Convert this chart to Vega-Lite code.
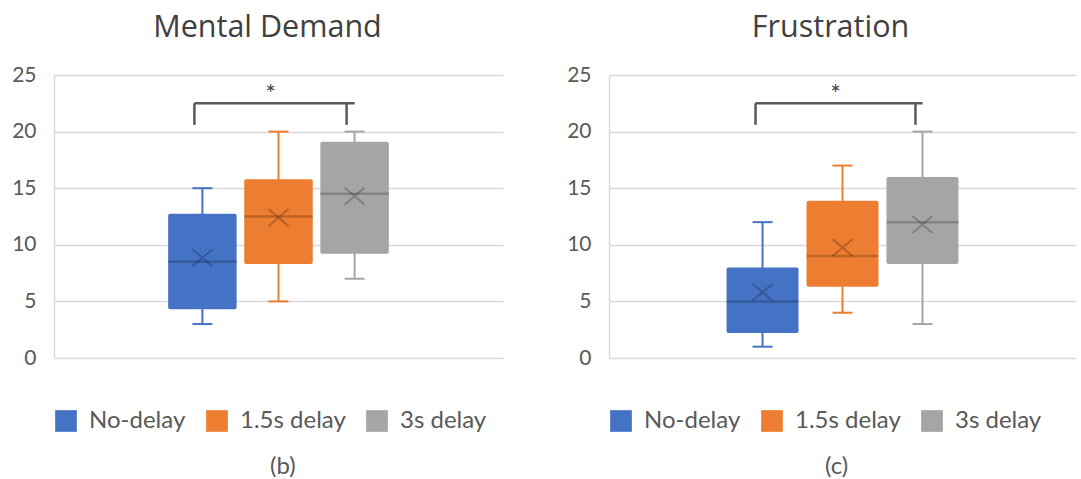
{
  "$schema": "https://vega.github.io/schema/vega-lite/v6.json",
  "padding": {"left": 11, "top": 12, "right": 0, "bottom": 0},
  "background": "white",
  "datasets": {
    "md": [
      {"group": "No-delay", "lower": 3, "q1": 4.3, "median": 8.5, "q3": 12.75, "upper": 15, "mean": 8.85},
      {"group": "1.5s delay", "lower": 5, "q1": 8.3, "median": 12.5, "q3": 15.8, "upper": 20, "mean": 12.4},
      {"group": "3s delay", "lower": 7, "q1": 9.2, "median": 14.5, "q3": 19.1, "upper": 20, "mean": 14.3}
    ],
    "fr": [
      {"group": "No-delay", "lower": 1, "q1": 2.2, "median": 5, "q3": 8, "upper": 12, "mean": 5.8},
      {"group": "1.5s delay", "lower": 4, "q1": 6.3, "median": 9, "q3": 13.9, "upper": 17, "mean": 9.75},
      {"group": "3s delay", "lower": 3, "q1": 8.3, "median": 12, "q3": 16, "upper": 20, "mean": 11.8}
    ],
    "brk": [
      {"a": "No-delay", "b": "3s delay", "mid": "1.5s delay", "top": 22.5, "leg": 20.6, "label": "*"}
    ]
  },
  "spacing": 63,
  "resolve": {"legend": {"color": "independent"}},
  "hconcat": [
    {
      "width": 449,
      "height": 283,
      "title": {"text": "Mental Demand", "dx": -11},
      "layer": [
        {
          "data": {"name": "md"},
          "mark": {"type": "bar", "cornerRadius": 2},
          "encoding": {
            "x": {"field": "group", "type": "nominal", "axis": null, "scale": {"domain": [" ", "No-delay", "1.5s delay", "3s delay", "  "], "paddingInner": 0.1, "paddingOuter": 0.5}},
            "y": {"field": "q1", "type": "quantitative", "title": null, "scale": {"domain": [0, 25], "nice": false}, "axis": {"values": [0, 5, 10, 15, 20, 25]}},
            "y2": {"field": "q3"},
            "color": {"field": "group", "type": "nominal", "scale": {"domain": ["No-delay", "1.5s delay", "3s delay"], "range": ["#4472C4", "#ED7D31", "#A5A5A5"]},
              "legend": {"title": "(b)", "orient": "bottom", "direction": "horizontal", "titleOrient": "bottom", "titleAnchor": "middle", "titleAlign": "left", "offset": 51, "titlePadding": 22, "columnPadding": 19, "labelOffset": 11, "symbolType": "square", "symbolSize": 470, "symbolStrokeWidth": 0, "symbolOpacity": 1}}
          }
        },
        {
          "data": {"name": "md"},
          "mark": {"type": "rule", "strokeWidth": 2, "opacity": 1},
          "encoding": {
            "x": {"field": "group", "type": "nominal"},
            "y": {"field": "lower", "type": "quantitative", "title": null},
            "y2": {"field": "upper"},
            "color": {"field": "group", "type": "nominal"}
          }
        },
        {
          "data": {"name": "md"},
          "mark": {"type": "tick", "thickness": 2, "size": 20, "opacity": 1},
          "encoding": {
            "x": {"field": "group", "type": "nominal"},
            "y": {"field": "lower", "type": "quantitative", "title": null},
            "color": {"field": "group", "type": "nominal"}
          }
        },
        {
          "data": {"name": "md"},
          "mark": {"type": "tick", "thickness": 2, "size": 20, "opacity": 1},
          "encoding": {
            "x": {"field": "group", "type": "nominal"},
            "y": {"field": "upper", "type": "quantitative", "title": null},
            "color": {"field": "group", "type": "nominal"}
          }
        },
        {
          "data": {"name": "md"},
          "mark": {"type": "tick", "color": "#000", "opacity": 0.2, "thickness": 2.5, "size": 69},
          "encoding": {
            "x": {"field": "group", "type": "nominal"},
            "y": {"field": "median", "type": "quantitative", "title": null}
          }
        },
        {
          "data": {"name": "md"},
          "mark": {"type": "point", "shape": "M-1,-0.85L1,0.85M-1,0.85L1,-0.85", "size": 400, "filled": false, "stroke": "#000", "strokeOpacity": 0.3, "strokeWidth": 2},
          "encoding": {
            "x": {"field": "group", "type": "nominal"},
            "y": {"field": "mean", "type": "quantitative", "title": null}
          }
        },
        {
          "data": {"name": "brk"},
          "mark": {"type": "rule", "color": "#595959", "strokeWidth": 2.5, "xOffset": -8},
          "encoding": {
            "x": {"field": "a", "type": "nominal"},
            "x2": {"field": "b"},
            "y": {"field": "top", "type": "quantitative", "title": null}
          }
        },
        {
          "data": {"name": "brk"},
          "mark": {"type": "rule", "color": "#595959", "strokeWidth": 2.5, "xOffset": -8},
          "encoding": {
            "x": {"field": "a", "type": "nominal"},
            "y": {"field": "leg", "type": "quantitative", "title": null},
            "y2": {"field": "top"}
          }
        },
        {
          "data": {"name": "brk"},
          "mark": {"type": "rule", "color": "#595959", "strokeWidth": 2.5, "xOffset": -8},
          "encoding": {
            "x": {"field": "b", "type": "nominal"},
            "y": {"field": "leg", "type": "quantitative", "title": null},
            "y2": {"field": "top"}
          }
        },
        {
          "data": {"name": "brk"},
          "mark": {"type": "text", "font": "Lato", "fontSize": 25, "color": "#404040", "baseline": "alphabetic", "xOffset": -8},
          "encoding": {
            "x": {"field": "mid", "type": "nominal"},
            "y": {"field": "top", "type": "quantitative", "title": null},
            "text": {"field": "label"}
          }
        }
      ]
    },
    {
      "width": 467,
      "height": 283,
      "title": {"text": "Frustration", "dx": -12},
      "layer": [
        {
          "data": {"name": "fr"},
          "mark": {"type": "bar", "cornerRadius": 2},
          "encoding": {
            "x": {"field": "group", "type": "nominal", "axis": null, "scale": {"domain": [" ", "No-delay", "1.5s delay", "3s delay", "  "], "paddingInner": 0.1, "paddingOuter": 0.47}},
            "y": {"field": "q1", "type": "quantitative", "title": null, "scale": {"domain": [0, 25], "nice": false}, "axis": {"values": [0, 5, 10, 15, 20, 25]}},
            "y2": {"field": "q3"},
            "color": {"field": "group", "type": "nominal", "scale": {"domain": ["No-delay", "1.5s delay", "3s delay"], "range": ["#4472C4", "#ED7D31", "#A5A5A5"]},
              "legend": {"title": "(c)", "orient": "bottom", "direction": "horizontal", "titleOrient": "bottom", "titleAnchor": "middle", "titleAlign": "left", "offset": 51, "titlePadding": 22, "columnPadding": 19, "labelOffset": 11, "symbolType": "square", "symbolSize": 470, "symbolStrokeWidth": 0, "symbolOpacity": 1}}
          }
        },
        {
          "data": {"name": "fr"},
          "mark": {"type": "rule", "strokeWidth": 2, "opacity": 1},
          "encoding": {
            "x": {"field": "group", "type": "nominal"},
            "y": {"field": "lower", "type": "quantitative", "title": null},
            "y2": {"field": "upper"},
            "color": {"field": "group", "type": "nominal"}
          }
        },
        {
          "data": {"name": "fr"},
          "mark": {"type": "tick", "thickness": 2, "size": 20, "opacity": 1},
          "encoding": {
            "x": {"field": "group", "type": "nominal"},
            "y": {"field": "lower", "type": "quantitative", "title": null},
            "color": {"field": "group", "type": "nominal"}
          }
        },
        {
          "data": {"name": "fr"},
          "mark": {"type": "tick", "thickness": 2, "size": 20, "opacity": 1},
          "encoding": {
            "x": {"field": "group", "type": "nominal"},
            "y": {"field": "upper", "type": "quantitative", "title": null},
            "color": {"field": "group", "type": "nominal"}
          }
        },
        {
          "data": {"name": "fr"},
          "mark": {"type": "tick", "color": "#000", "opacity": 0.2, "thickness": 2.5, "size": 72},
          "encoding": {
            "x": {"field": "group", "type": "nominal"},
            "y": {"field": "median", "type": "quantitative", "title": null}
          }
        },
        {
          "data": {"name": "fr"},
          "mark": {"type": "point", "shape": "M-1,-0.85L1,0.85M-1,0.85L1,-0.85", "size": 400, "filled": false, "stroke": "#000", "strokeOpacity": 0.3, "strokeWidth": 2},
          "encoding": {
            "x": {"field": "group", "type": "nominal"},
            "y": {"field": "mean", "type": "quantitative", "title": null}
          }
        },
        {
          "data": {"name": "brk"},
          "mark": {"type": "rule", "color": "#595959", "strokeWidth": 2.5, "xOffset": -7},
          "encoding": {
            "x": {"field": "a", "type": "nominal"},
            "x2": {"field": "b"},
            "y": {"field": "top", "type": "quantitative", "title": null}
          }
        },
        {
          "data": {"name": "brk"},
          "mark": {"type": "rule", "color": "#595959", "strokeWidth": 2.5, "xOffset": -7},
          "encoding": {
            "x": {"field": "a", "type": "nominal"},
            "y": {"field": "leg", "type": "quantitative", "title": null},
            "y2": {"field": "top"}
          }
        },
        {
          "data": {"name": "brk"},
          "mark": {"type": "rule", "color": "#595959", "strokeWidth": 2.5, "xOffset": -7},
          "encoding": {
            "x": {"field": "b", "type": "nominal"},
            "y": {"field": "leg", "type": "quantitative", "title": null},
            "y2": {"field": "top"}
          }
        },
        {
          "data": {"name": "brk"},
          "mark": {"type": "text", "font": "Lato", "fontSize": 25, "color": "#404040", "baseline": "alphabetic", "xOffset": -7},
          "encoding": {
            "x": {"field": "mid", "type": "nominal"},
            "y": {"field": "top", "type": "quantitative", "title": null},
            "text": {"field": "label"}
          }
        }
      ]
    }
  ],
  "config": {
    "view": {"stroke": null},
    "font": "Lato",
    "title": {"font": "Open Sans", "fontSize": 30.5, "fontWeight": "normal", "color": "#404040", "offset": 21},
    "axisY": {"labelFont": "Lato", "labelFontSize": 21, "labelColor": "#595959", "labelPadding": 18, "ticks": false, "gridColor": "#d9d9d9", "gridWidth": 1.5, "domainColor": "#d9d9d9", "domainWidth": 1.5},
    "legend": {"labelFont": "Lato", "labelFontSize": 24, "labelColor": "#595959", "titleFont": "Lato", "titleFontSize": 24, "titleFontWeight": "normal", "titleColor": "#595959", "labelLimit": 300}
  }
}
